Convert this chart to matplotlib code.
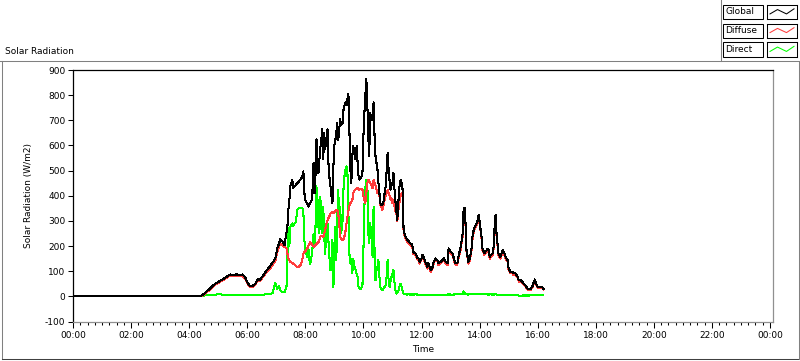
import matplotlib
matplotlib.use("Agg")
import matplotlib.pyplot as plt
from matplotlib.patches import Rectangle
from matplotlib.lines import Line2D
from matplotlib.ticker import MultipleLocator, FuncFormatter

plt.rcParams["axes.unicode_minus"] = False

# minutes since midnight, values in W/m2
minutes = [0, 263, 269, 275, 281, 288, 294, 300, 306, 312, 319, 325, 331, 337, 343, 350,
           356, 360, 364, 370, 377, 381, 387, 393, 399, 406, 412, 418, 422, 426, 428, 432,
           437, 441, 443, 445, 447,
           449, 451, 453, 455, 457, 459, 461, 463, 466, 468, 470, 472, 474, 476, 478, 480,
           482, 484, 486, 488, 490, 492, 494, 497, 499, 501, 503, 505, 507, 509, 511, 513,
           515, 517, 519, 521, 523, 526, 528, 530, 532, 534, 536, 538, 540, 542, 544, 546,
           548, 550, 552, 554, 557, 559, 561, 563, 565, 567, 569, 571, 573, 575, 577, 579,
           581, 583, 586, 588, 590, 592, 594, 596, 598, 600, 602, 604, 606, 608, 610, 612,
           614, 617, 619, 621, 623, 625, 627, 629, 631, 633, 635, 637, 639, 641, 643, 646,
           648, 650, 652, 654, 656, 658, 660, 662, 664, 666, 668, 670, 672, 674, 677, 679,
           681, 683,
           687, 691, 693, 697, 701, 703, 708, 712, 714, 716, 720, 722, 724, 728, 732, 734,
           739, 743, 745, 749, 753, 755, 759, 763, 766, 770, 774, 776, 780, 784, 786, 790,
           794, 797, 801, 805, 807, 809, 811, 813, 817, 819, 823, 826, 830, 834, 836, 838,
           840, 844, 846, 850, 852, 857, 859, 861, 863, 867, 869, 871, 873, 875, 877, 879,
           883, 888, 890, 894, 898, 900, 904, 908, 910, 914, 919, 921, 925, 929, 931, 935,
           939, 941, 946, 950, 952, 954, 958, 960, 964, 968, 970, 972]

global_rad = [0, 0, 8, 17, 28, 40, 51, 57, 64, 71, 80, 87, 84, 88, 84, 87,
              75, 57, 44, 40, 51, 67, 67, 84, 101, 117, 133, 151, 191, 211, 227, 221,
              204, 251, 277, 344, 380,
              437, 450, 464, 430, 440, 437, 445, 450, 455, 460, 464, 470, 477, 497, 410, 384,
              375, 370, 357, 365, 370, 380, 384, 532, 410, 480, 624, 517, 490, 540, 592, 620,
              664, 544, 651, 584, 620, 664, 517, 470, 437, 400, 370, 517, 600, 620, 650, 691,
              620, 660, 704, 680, 690, 744, 760, 771, 760, 785, 804, 664, 504, 451, 557, 597,
              570, 544, 597, 530, 477, 464, 470, 477, 490, 637, 730, 800, 864, 771, 637, 557,
              731, 700, 704, 771, 637, 557, 530, 504, 451, 410, 371, 364, 364, 371, 400, 437,
              500, 571, 504, 460, 424, 440, 451, 491, 430, 380, 344, 304, 370, 430, 464, 450,
              424, 264,
              237, 224, 220, 211, 205, 177, 170, 151, 151, 137, 151, 164, 157, 137, 117, 131,
              104, 117, 137, 151, 144, 131, 137, 144, 151, 137, 131, 191, 177, 171, 157, 131,
              131, 164, 197, 251, 344, 352, 290, 184, 137, 144, 184, 251, 277, 290, 304, 324,
              297, 237, 190, 171, 177, 190, 184, 157, 164, 171, 197, 277, 324, 251, 211, 171,
              157, 184, 177, 157, 144, 111, 97, 97, 91, 91, 77, 64, 64, 57, 51, 44,
              31, 28, 31, 44, 57, 67, 44, 37, 37, 37, 35, 30]

diffuse_rad = [0, 0, 5, 13, 24, 36, 47, 53, 60, 67, 76, 82, 80, 84, 80, 82,
               70, 52, 40, 36, 46, 62, 63, 78, 94, 108, 124, 140, 176, 200, 211, 205,
               197, 190, 170, 150, 145,
               137, 135, 133, 130, 128, 124, 120, 117, 118, 120, 124, 135, 150, 170, 175, 180,
               185, 190, 200, 205, 217, 210, 205, 197, 200, 205, 208, 211, 215, 225, 237, 240,
               240, 237, 250, 265, 285, 304, 312, 320, 330, 332, 335, 330, 335, 340, 342, 344,
               330, 290, 237, 228, 224, 226, 240, 260, 290, 317, 340, 360, 371, 375, 380, 411,
               418, 424, 428, 430, 424, 425, 427, 426, 424, 397, 385, 371, 410, 451, 464, 458,
               451, 440, 430, 464, 452, 440, 425, 411, 424, 400, 365, 355, 344, 355, 375, 400,
               410, 424, 411, 400, 384, 390, 371, 384, 360, 340, 330, 300, 340, 370, 400, 410,
               400, 255,
               230, 217, 212, 204, 197, 170, 163, 144, 146, 130, 146, 158, 150, 130, 110, 125,
               98, 111, 131, 145, 138, 125, 131, 138, 145, 131, 125, 180, 170, 165, 150, 126,
               126, 156, 188, 240, 325, 330, 280, 178, 130, 137, 176, 240, 268, 282, 295, 312,
               290, 230, 183, 165, 170, 183, 177, 150, 158, 165, 190, 262, 300, 240, 203, 165,
               150, 177, 170, 150, 137, 105, 91, 92, 85, 86, 72, 58, 59, 52, 46, 40,
               27, 24, 27, 39, 52, 60, 40, 33, 34, 34, 32, 28]

direct_rad = [0, 0, 3, 4, 4, 5, 6, 9, 8, 4, 5, 6, 5, 6, 5, 6,
              6, 6, 6, 6, 6, 6, 6, 7, 8, 9, 12, 52, 30, 40, 24, 18,
              18, 37, 157, 270, 200,
              277, 285, 290, 280, 290, 290, 300, 344, 350, 350, 350, 352, 350, 330, 224, 184,
              170, 157, 197, 150, 130, 150, 170, 250, 200, 277, 437, 277, 384, 250, 397, 300,
              250, 357, 240, 170, 250, 290, 210, 150, 104, 150, 224, 37, 184, 277, 144, 317,
              424, 290, 357, 250, 304, 437, 480, 504, 517, 490, 331, 170, 130, 150, 91, 150,
              120, 110, 90, 77, 37, 30, 30, 35, 44, 184, 357, 430, 464, 464, 251, 211,
              290, 230, 157, 357, 184, 64, 117, 104, 144, 80, 37, 30, 24, 30, 35, 44,
              80, 144, 64, 37, 60, 77, 90, 104, 60, 25, 11, 15, 20, 35, 51, 35,
              20, 11,
              8, 7, 8, 7, 8, 7, 8, 7, 6, 7, 6, 7, 6, 7, 6, 6,
              7, 6, 6, 6, 7, 6, 6, 7, 6, 6, 7, 8, 7, 6, 7, 8,
              8, 8, 9, 10, 20, 14, 10, 8, 7, 8, 9, 8, 9, 10, 9, 8,
              9, 8, 8, 9, 8, 7, 7, 8, 8, 7, 7, 8, 8, 7, 7, 7,
              7, 7, 6, 6, 6, 6, 6, 6, 6, 6, 5, 3, 3, 3, 4, 3,
              4, 3, 4, 4, 4, 5, 4, 4, 5, 5, 6, 6]

series_names = ["Global", "Diffuse", "Direct"]
series_colors = ["#000000", "#ff3c3c", "#00ff00"]

W, H = 800, 361


def fx(x):
    return x / W


def fy(y):
    return 1 - y / H


fig = plt.figure(figsize=(W / 100, H / 100), dpi=100)
fig.patch.set_facecolor("white")

# panel border
fig.add_artist(Line2D([0, 1], [fy(60.5), fy(60.5)], color="#808080", lw=0.75))
fig.add_artist(Line2D([fx(1.5), fx(1.5)], [fy(60.5), fy(358.5)], color="#808080", lw=0.75))
fig.add_artist(Line2D([fx(1.5), fx(798.5)], [fy(358.5), fy(358.5)], color="#404040", lw=0.75))
fig.add_artist(Line2D([fx(798.5), fx(798.5)], [fy(60.5), fy(358.5)], color="#808080", lw=0.75))
fig.add_artist(Line2D([fx(720.5), fx(720.5)], [fy(0), fy(60.5)], color="#808080", lw=0.75))

fig.text(fx(5), fy(52), "Solar Radiation", fontsize=6.5, va="center", ha="left")

# plot frame runs 2 px past the 24:00 tick
ax = fig.add_axes([fx(73), fy(321.5), fx(772.5) - fx(73), fy(70) - fy(321.5)])
ax.set_xlim(0, 1440 * 699.5 / 697)
ax.set_ylim(-100, 900)

ax.plot(minutes, direct_rad, color=series_colors[2], lw=0.75, antialiased=False)
ax.plot(minutes, diffuse_rad, color=series_colors[1], lw=0.75, antialiased=False)
ax.plot(minutes, global_rad, color=series_colors[0], lw=0.75, antialiased=False)

ax.xaxis.set_major_locator(MultipleLocator(120))
ax.xaxis.set_minor_locator(MultipleLocator(15))
ax.xaxis.set_major_formatter(FuncFormatter(lambda v, p: "%02d:%02d" % ((int(v) // 60) % 24, int(v) % 60)))
ax.yaxis.set_major_locator(MultipleLocator(100))

ax.tick_params(axis="both", which="major", labelsize=6.5, direction="out", width=0.75, color="black")
ax.tick_params(axis="x", which="major", length=4.5, pad=2)
ax.tick_params(axis="x", which="minor", length=2.5, width=0.75)
ax.tick_params(axis="y", which="major", length=3.5, pad=2)

for s in ["left", "top"]:
    ax.spines[s].set_color("black")
    ax.spines[s].set_linewidth(0.9)
for s in ["bottom", "right"]:
    ax.spines[s].set_color("#909090")
    ax.spines[s].set_linewidth(0.9)

ax.set_ylabel("Solar Radiation (W/m2)", fontsize=6.5)
ax.yaxis.set_label_coords(-0.057, 0.5)
ax.set_xlabel("Time", fontsize=6.5)
ax.xaxis.set_label_coords(0.5, -0.095)

# legend: label boxes and line swatches
rows = [(4.5, 19.0), (23.5, 37.5), (42.0, 56.5)]
for (top, bot), name, col in zip(rows, series_names, series_colors):
    fig.add_artist(Rectangle((fx(723), fy(bot)), fx(763) - fx(723), fy(top) - fy(bot),
                             fill=False, ec="black", lw=0.75))
    fig.text(fx(725), fy((top + bot) / 2), name, fontsize=6.5, va="center", ha="left")
    sw = fig.add_axes([fx(767), fy(bot), fx(797) - fx(767), fy(top) - fy(bot)])
    sw.set_xlim(0, 1)
    sw.set_ylim(0, 1)
    sw.set_xticks([])
    sw.set_yticks([])
    for s in sw.spines.values():
        s.set_linewidth(0.75)
    sw.plot([0.1, 0.35, 0.65, 0.9], [0.35, 0.65, 0.35, 0.7], color=col, lw=0.75)

fig.savefig("out.png", dpi=100)
